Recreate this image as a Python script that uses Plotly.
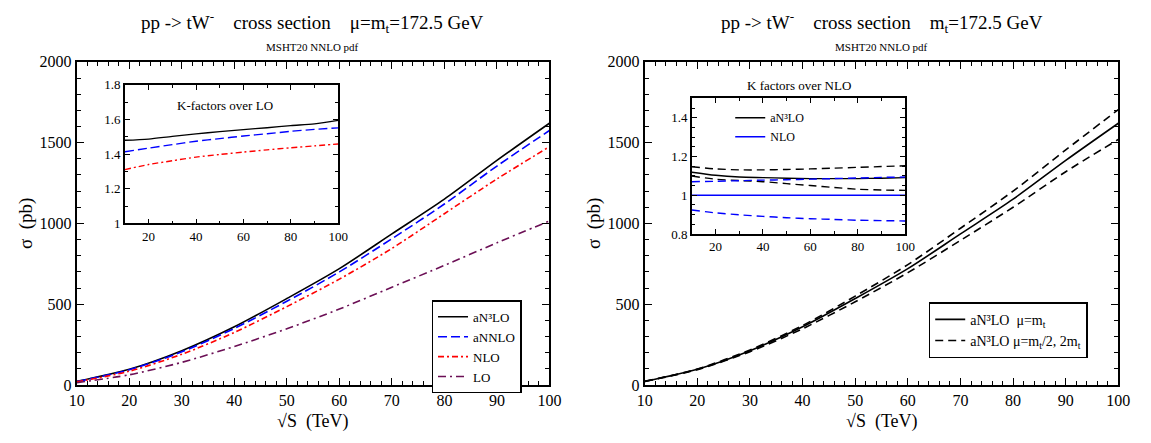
import plotly.graph_objects as go

W, H = 1151, 443

# ---------------- data ----------------
sqrt_s = [10, 20, 30, 40, 50, 60, 70, 80, 90, 100]

# left panel: cross sections (pb)
an3lo = [22, 97, 212, 360, 535, 720, 935, 1150, 1390, 1620]
annlo = [21, 94, 205, 350, 518, 700, 905, 1120, 1355, 1575]
nlo = [19, 85, 190, 325, 485, 655, 845, 1060, 1275, 1475]
lo = [14, 63, 140, 238, 348, 470, 605, 740, 880, 1015]

# left inset: K-factors over LO
k_an3lo_lo = [1.480, 1.487, 1.503, 1.517, 1.530, 1.542, 1.553, 1.565, 1.575, 1.595]
k_annlo_lo = [1.414, 1.435, 1.455, 1.475, 1.490, 1.505, 1.518, 1.532, 1.543, 1.552]
k_nlo_lo = [1.311, 1.340, 1.362, 1.383, 1.398, 1.412, 1.425, 1.437, 1.448, 1.459]

# right panel: aN3LO with scale variation (pb)
an3lo_mu = [22, 97, 212, 360, 535, 720, 935, 1150, 1390, 1620]
an3lo_up = [22.5, 99, 217, 368, 550, 745, 970, 1200, 1455, 1705]
an3lo_dn = [21.5, 95, 206, 348, 515, 695, 895, 1100, 1320, 1520]

# right inset: K factors over NLO
kn_an3lo = [1.119, 1.103, 1.094, 1.091, 1.088, 1.086, 1.086, 1.086, 1.088, 1.091]
kn_an3lo_up = [1.147, 1.136, 1.131, 1.131, 1.133, 1.136, 1.140, 1.144, 1.148, 1.152]
kn_an3lo_dn = [1.099, 1.083, 1.076, 1.070, 1.060, 1.050, 1.040, 1.031, 1.027, 1.025]
kn_nlo = [1.0, 1.0, 1.0, 1.0, 1.0, 1.0, 1.0, 1.0, 1.0, 1.0]
kn_nlo_up = [1.070, 1.072, 1.075, 1.078, 1.080, 1.083, 1.086, 1.089, 1.092, 1.094]
kn_nlo_dn = [0.924, 0.909, 0.899, 0.891, 0.884, 0.879, 0.875, 0.871, 0.869, 0.867]

main_x_ticks = [10, 20, 30, 40, 50, 60, 70, 80, 90, 100]
main_y_ticks = [0, 500, 1000, 1500, 2000]
inset_x_ticks = [20, 40, 60, 80, 100]
inset1_y_ticks = [1, 1.2, 1.4, 1.6, 1.8]
inset2_y_ticks = [0.8, 1, 1.2, 1.4]

# ---------------- styling ----------------
FONT = "Liberation Serif, Times New Roman, serif"
BLACK, BLUE, RED, PURPLE = "#000000", "#0000ff", "#ff0000", "#6b0f55"
DASH_BLUE = "9px,4px"
DASH_RED = "6px,3px,2px,3px"
DASH_PURPLE = "8px,4px,2px,4px"
DASH_BLACK = "8px,5px"
GAP = "&nbsp;&nbsp;&nbsp;&nbsp;"


def px_x(p):
    return p / W


def px_y(p):
    return (H - p) / H


fig = go.Figure()


def add(x, y, xa, ya, color, dash, name, legend=None, show=False, width=1.6):
    fig.add_trace(go.Scatter(
        x=x, y=y, xaxis=xa, yaxis=ya, mode="lines", name=name,
        line=dict(color=color, dash=dash, width=width, shape="spline", smoothing=0.8),
        showlegend=show, legend=legend, hoverinfo="skip"))


# left main
add(sqrt_s, an3lo, "x", "y", BLACK, "solid", "aN³LO", "legend", True)
add(sqrt_s, annlo, "x", "y", BLUE, DASH_BLUE, "aNNLO", "legend", True)
add(sqrt_s, nlo, "x", "y", RED, DASH_RED, "NLO", "legend", True)
add(sqrt_s, lo, "x", "y", PURPLE, DASH_PURPLE, "LO", "legend", True)

# left inset
add(sqrt_s, k_an3lo_lo, "x3", "y3", BLACK, "solid", "k1", width=1.4)
add(sqrt_s, k_annlo_lo, "x3", "y3", BLUE, DASH_BLUE, "k2", width=1.4)
add(sqrt_s, k_nlo_lo, "x3", "y3", RED, DASH_RED, "k3", width=1.4)

# right main
add(sqrt_s, an3lo_mu, "x2", "y2", BLACK, "solid", "aN³LO&nbsp;&nbsp;μ=m<sub>t</sub>", "legend2", True)
add(sqrt_s, an3lo_up, "x2", "y2", BLACK, DASH_BLACK,
    "aN³LO μ=m<sub>t</sub>/2, 2m<sub>t</sub>", "legend2", True)
add(sqrt_s, an3lo_dn, "x2", "y2", BLACK, DASH_BLACK, "dn")

# right inset
add(sqrt_s, kn_an3lo, "x4", "y4", BLACK, "solid", "aN³LO", "legend3", True, width=1.4)
add(sqrt_s, kn_nlo, "x4", "y4", BLUE, "solid", "NLO", "legend3", True, width=1.4)
add(sqrt_s, kn_an3lo_up, "x4", "y4", BLACK, DASH_BLACK, "u1", width=1.4)
add(sqrt_s, kn_an3lo_dn, "x4", "y4", BLACK, DASH_BLACK, "d1", width=1.4)
add(sqrt_s, kn_nlo_up, "x4", "y4", BLUE, DASH_BLACK, "u2", width=1.4)
add(sqrt_s, kn_nlo_dn, "x4", "y4", BLUE, DASH_BLACK, "d2", width=1.4)


def axis(domain, rng, tickvals, minor_dtick, anchor, size, lw, ticklen, minor_len):
    return dict(domain=domain, range=rng, tickvals=tickvals, anchor=anchor,
                showline=True, mirror="allticks", linecolor="black", linewidth=lw,
                ticks="inside", ticklen=ticklen, tickwidth=1.3, tickcolor="black",
                showgrid=False, zeroline=False,
                tickfont=dict(family=FONT, size=size, color="black"),
                minor=dict(ticks="inside", ticklen=minor_len, dtick=minor_dtick,
                           tick0=0, tickcolor="black", tickwidth=1, showgrid=False))


L_main = [px_x(70), px_x(551)]
R_main = [px_x(648), px_x(1130)]
Y_main = [px_y(392), px_y(56)]
L_ins_x = [px_x(119), px_x(336)]
L_ins_y = [px_y(224), px_y(80)]
R_ins_x = [px_x(696), px_x(913)]
R_ins_y = [px_y(235), px_y(94)]

fig.update_layout(
    width=W, height=H, margin=dict(l=0, r=0, t=0, b=0),
    paper_bgcolor="white", plot_bgcolor="white",
    font=dict(family=FONT, color="black"),
    xaxis=axis(L_main, [10, 100], main_x_ticks, 2, "y", 16, 2, 7, 4),
    yaxis=axis(Y_main, [0, 2000], main_y_ticks, 100, "x", 16, 2, 7, 4),
    xaxis2=axis(R_main, [10, 100], main_x_ticks, 2, "y2", 16, 2, 7, 4),
    yaxis2=axis(Y_main, [0, 2000], main_y_ticks, 100, "x2", 16, 2, 7, 4),
    xaxis3=axis(L_ins_x, [10, 100], inset_x_ticks, 10, "y3", 13, 1.5, 5, 3),
    yaxis3=axis(L_ins_y, [1, 1.8], inset1_y_ticks, 0.1, "x3", 13, 1.5, 5, 3),
    xaxis4=axis(R_ins_x, [10, 100], inset_x_ticks, 10, "y4", 13, 1.5, 5, 3),
    yaxis4=axis(R_ins_y, [0.8, 1.5], inset2_y_ticks, 0.05, "x4", 13, 1.5, 5, 3),
    legend=dict(x=px_x(431), y=px_y(304), xanchor="left", yanchor="top",
                bgcolor="white", bordercolor="black", borderwidth=1.5,
                font=dict(family=FONT, size=13), tracegroupgap=0, itemwidth=30,
                traceorder="normal"),
    legend2=dict(x=px_x(937), y=px_y(306), xanchor="left", yanchor="top",
                 bgcolor="white", bordercolor="black", borderwidth=1.5,
                 font=dict(family=FONT, size=14), tracegroupgap=0, itemwidth=30,
                 traceorder="normal"),
    legend3=dict(x=px_x(735), y=px_y(99), xanchor="left", yanchor="top",
                 bgcolor="rgba(0,0,0,0)", borderwidth=0,
                 font=dict(family=FONT, size=12), tracegroupgap=0, itemwidth=30,
                 traceorder="normal"),
)

ann = []


def text(x, y, s, size, angle=0):
    ann.append(dict(x=px_x(x), y=px_y(y), xref="paper", yref="paper", text=s,
                    showarrow=False, font=dict(family=FONT, size=size, color="black"),
                    xanchor="center", yanchor="middle", textangle=angle))


text(310, 15, "pp -&gt; tW<sup>-</sup>" + GAP + "cross section" + GAP + "μ=m<sub>t</sub>=172.5 GeV", 19)
text(310, 41, "MSHT20 NNLO pdf", 11)
text(889, 15, "pp -&gt; tW<sup>-</sup>" + GAP + "cross section" + GAP + "m<sub>t</sub>=172.5 GeV", 19)
text(889, 41, "MSHT20 NNLO pdf", 11)
text(310, 430, "√S&nbsp;&nbsp;(TeV)", 18)
text(889, 430, "√S&nbsp;&nbsp;(TeV)", 18)
text(19, 224, "σ&nbsp;&nbsp;(pb)", 19, angle=-90)
text(597, 224, "σ&nbsp;&nbsp;(pb)", 19, angle=-90)
text(221, 101, "K-factors over LO", 13)
text(805, 81, "K factors over NLO", 13)

fig.update_layout(annotations=ann)
fig.write_html("out.html", config={"displayModeBar": False},
               post_script="document.body.style.margin='0px';")
